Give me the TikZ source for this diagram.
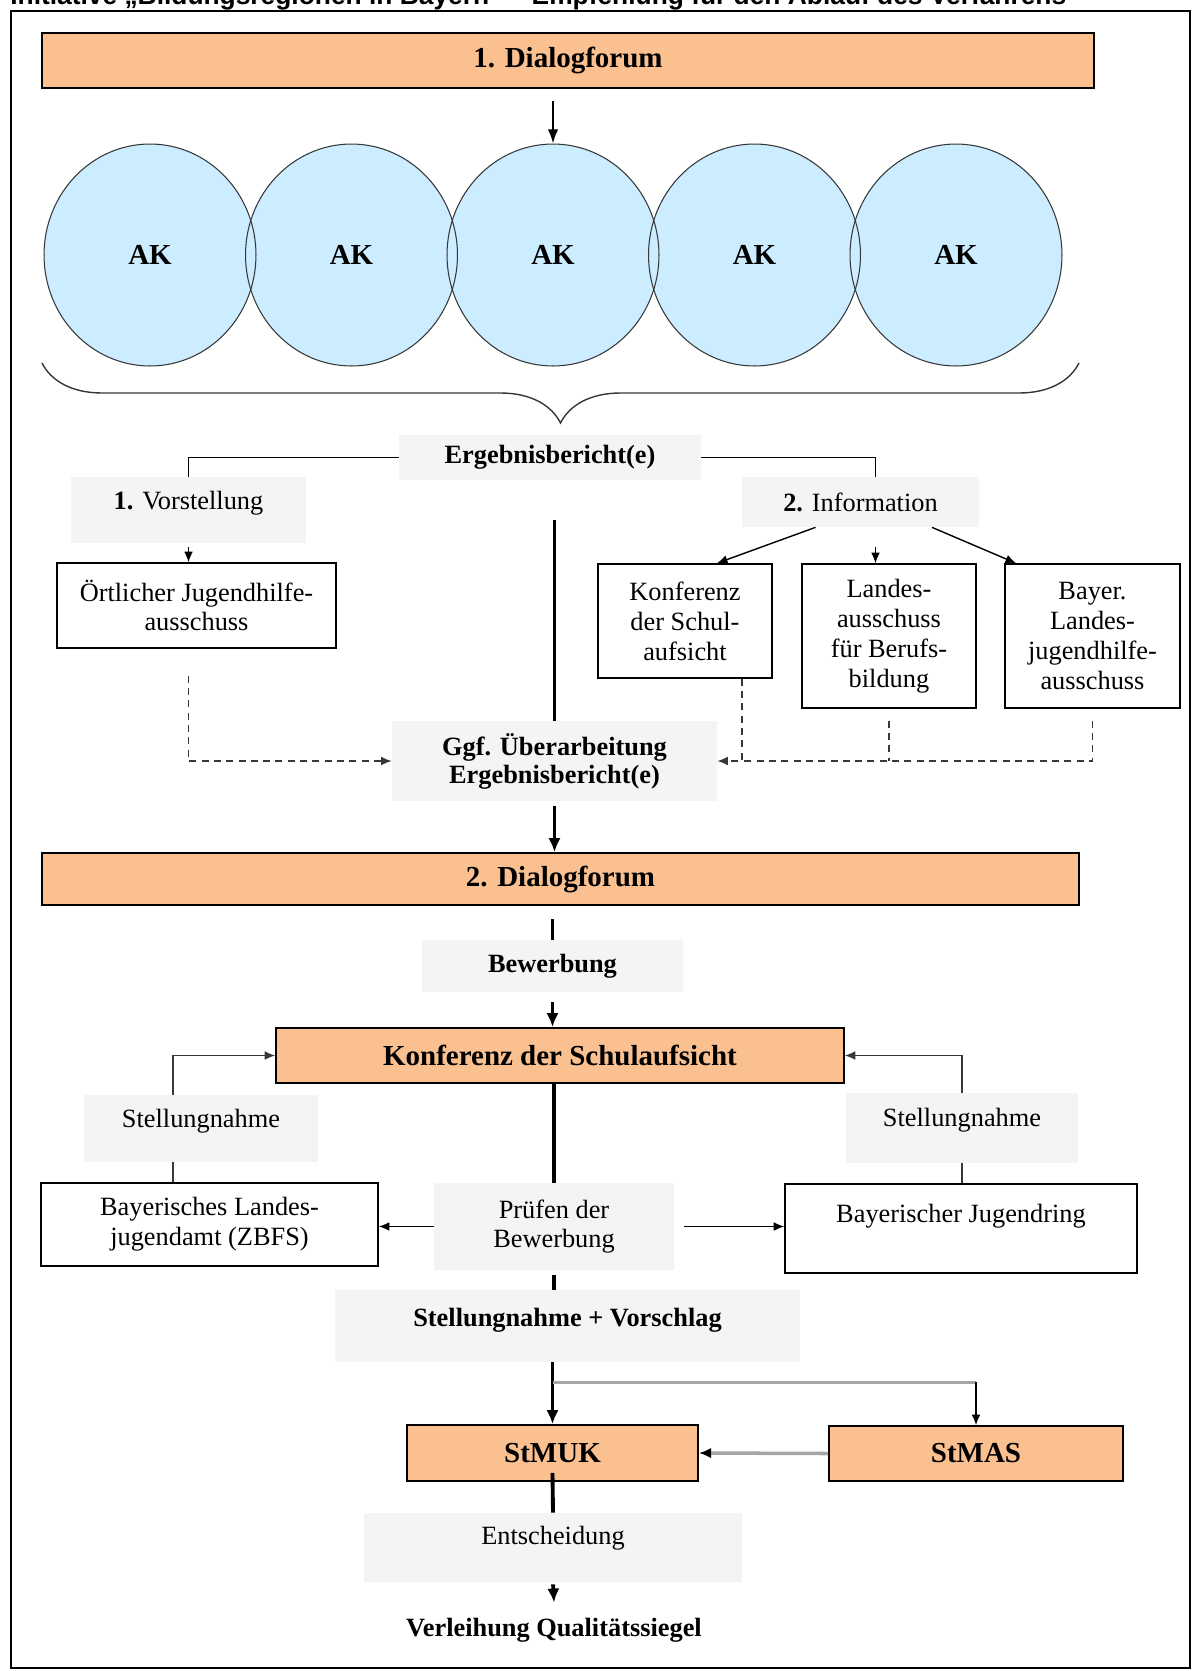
\documentclass[tikz,border=0pt]{standalone}
\usepackage{fontspec}
\setmainfont{Liberation Serif}
\newfontfamily\titelfont{Liberation Sans}
\usetikzlibrary{shapes.geometric,decorations.pathreplacing,arrows.meta}
\definecolor{forumorange}{RGB}{250,192,144}
\definecolor{akblau}{RGB}{204,236,255}
\definecolor{hellgrau}{RGB}{244,244,244}
\definecolor{linie}{RGB}{55,55,55}
\definecolor{bandgrau}{RGB}{165,165,165}

\begin{document}
\begin{tikzpicture}[x=0.02cm, y=-0.02cm,
  forum/.style={draw, line width=1pt, fill=forumorange, inner sep=0pt,
    font=\bfseries\fontsize{16.5}{19}\selectfont},
  ak/.style={ellipse, draw=linie, line width=0.6pt, inner sep=0pt,
    minimum width=4.24cm, minimum height=4.44cm, font=\bfseries\fontsize{16.5}{19}\selectfont},
  grau/.style={fill=hellgrau, inner sep=0pt, align=center, font=\fontsize{15}{17}\selectfont},
  hoch/.style={text depth=#1},
  kasten/.style={draw, line width=0.9pt, fill=white, inner sep=0pt, align=center,
    font=\fontsize{15}{17}\selectfont},
  dick/.style={line width=2.2pt},
  dickpfeil/.style={line width=2.2pt, -{Latex[length=8pt,width=7pt]}},
  pfeil/.style={line width=1.2pt, -{Latex[length=8pt,width=6pt]}},
  duennpfeil/.style={line width=0.8pt, -{Latex[length=6pt,width=5pt]}},
  graulinie/.style={line width=0.8pt, draw=linie},
  strich/.style={line width=0.8pt, draw=linie, dash pattern=on 4pt off 3pt},
  bandlinie/.style={line width=2pt, draw=bandgrau}]

\useasboundingbox (0,0) rectangle (1193,1671);

% title, cut at the upper edge
\node[anchor=base west, inner sep=0pt, font=\titelfont\bfseries\fontsize{15}{18}\selectfont]
  (titel) at (10,4) {Initiative „Bildungsregionen in Bayern“ – Empfehlung für den Ablauf des Verfahrens};
\draw[line width=1pt] (11,11) rectangle (1190,1668);

% 1. Dialogforum and the AKs
\node[forum, minimum width=21.04cm, minimum height=1.1cm] (forum1) at (568,60.5) {1. Dialogforum};
\foreach \i in {1,...,5}
  \fill[akblau] (150+201.5*\i-201.5,255) ellipse [x radius=2.12cm, y radius=2.22cm];
\foreach \i in {1,...,5}
  \node[ak] (ak\i) at (150+201.5*\i-201.5,255) {AK};
\draw[pfeil, shorten <=0.24cm] (forum1.south -| ak3.north) -- (ak3.north);
\draw[decorate, decoration={brace, amplitude=1.2cm}, line width=0.8pt, linie] (1079,363) -- (42,363);

% Ergebnisbericht
\node[grau, font=\bfseries\fontsize{15}{17}\selectfont, minimum width=6.04cm, minimum height=0.9cm]
  (erg) at (550,457.5) {Ergebnisbericht(e)};
\node[grau, hoch=11pt, minimum width=4.7cm, minimum height=1.32cm] (vorst) at (188.5,510) {\textbf{1.} Vorstellung};
\node[grau, minimum width=4.74cm, minimum height=1.0cm] (info) at (860.5,502) {\textbf{2.} Information};
\node[kasten, minimum width=5.58cm, minimum height=1.7cm] (ort) at (196.5,605.5) {Örtlicher Jugendhilfe-\\ausschuss};
\node[kasten, minimum width=3.48cm, minimum height=2.28cm] (konf1) at (685,621) {Konferenz\\der Schul-\\aufsicht};
\node[kasten, minimum width=3.48cm, minimum height=2.88cm] (landes) at (889,636) {Landes-\\ausschuss\\für Berufs-\\bildung};
\node[kasten, minimum width=3.5cm, minimum height=2.88cm] (bayer) at (1092.5,636) {Bayer.\\Landes-\\jugendhilfe-\\ausschuss};
\node[grau, font=\bfseries\fontsize{15}{16}\selectfont, minimum width=6.5cm, minimum height=1.6cm]
  (ggf) at (554.5,761) {Ggf. Überarbeitung\\Ergebnisbericht(e)};

\draw[line width=0.9pt] (erg.west) -| (vorst.north);
\draw[line width=0.9pt] (erg.east) -| ([xshift=0.3cm]info.north);
\draw[duennpfeil, shorten <=0.08cm] (vorst.south) -- (vorst.south |- ort.north);
\draw[duennpfeil] ([xshift=-0.9cm]info.south) -- ([xshift=0.64cm]konf1.north);
\draw[duennpfeil, shorten <=0.4cm] ([xshift=0.3cm]info.south) -- ([xshift=0.3cm]info.south |- landes.north);
\draw[duennpfeil] ([xshift=1.43cm]info.south) -- ([xshift=-1.53cm]bayer.north);
\draw[dick, shorten <=0.8cm] (erg.south -| ggf.north) -- (ggf.north);

% Rueckmeldungen
\draw[strich, -{Latex[length=6pt,width=5pt]}, shorten <=0.54cm] (ort.south -| vorst.south) |- (ggf.west);
\draw[strich, -{Latex[length=6pt,width=5pt]}] ([xshift=1.14cm]konf1.south) |- (ggf.east);
\draw[strich, shorten <=0.24cm] (landes.south) -- (landes.south |- ggf.east);
\draw[strich, shorten <=0.24cm] (bayer.south) |- ([xshift=1.14cm]konf1.south |- ggf.east);

% 2. Dialogforum
\node[forum, minimum width=20.74cm, minimum height=1.04cm] (forum2) at (560.5,879) {2. Dialogforum};
\draw[dickpfeil, shorten <=0.1cm] (ggf.south) -- (ggf.south |- forum2.north);
\node[grau, font=\bfseries\fontsize{15}{17}\selectfont, minimum width=5.22cm, minimum height=1.04cm]
  (bew) at (552.5,966) {Bewerbung};
\draw[dick, shorten <=0.26cm] (forum2.south -| bew.north) -- (bew.north);

% Konferenz der Schulaufsicht
\node[forum, minimum width=11.36cm, minimum height=1.1cm] (konf) at (560,1055.5) {Konferenz der Schulaufsicht};
\draw[dickpfeil, shorten <=0.2cm] (bew.south) -- (bew.south |- konf.north);
\node[grau, hoch=12pt, minimum width=4.68cm, minimum height=1.34cm] (stl) at (201,1128.5) {Stellungnahme};
\node[grau, hoch=12pt, minimum width=4.64cm, minimum height=1.4cm] (stlr) at (962,1128) {Stellungnahme};
\node[kasten, minimum width=6.74cm, minimum height=1.66cm] (bayla) at (209.5,1224.5) {Bayerisches Landes-\\jugendamt (ZBFS)};
\node[kasten, minimum width=7.04cm, minimum height=1.78cm] (bjr) at (961,1228.5) {Bayerischer Jugendring\\\phantom{B}};
\node[grau, minimum width=4.8cm, minimum height=1.74cm] (pruef) at (554,1226.5) {Prüfen der\\Bewerbung};

\draw[graulinie, -{Latex[length=6pt,width=5pt]}] ([xshift=-0.56cm]stl.north) |- (konf.west);
\draw[graulinie] ([xshift=-0.56cm]stl.south) -- ([xshift=-0.56cm]stl.south |- bayla.north);
\draw[graulinie, -{Latex[length=6pt,width=5pt]}] (stlr.north) |- (konf.east);
\draw[graulinie] (stlr.south) -- (stlr.south |- bjr.north);
\draw[dick] (pruef.north |- konf.south) -- (pruef.north);
\draw[duennpfeil] (pruef.west) -- (pruef.west -| bayla.east);
\draw[duennpfeil, shorten <=0.2cm] (pruef.east) -- (pruef.east -| bjr.west);

% Vorschlag, Ministerien, Entscheidung
\node[grau, hoch=10pt, font=\bfseries\fontsize{15}{17}\selectfont, minimum width=9.3cm, minimum height=1.44cm]
  (sv) at (567.5,1326) {Stellungnahme + Vorschlag};
\draw[dick, shorten <=0.1cm] (pruef.south) -- (pruef.south |- sv.north);
\node[forum, minimum width=5.82cm, minimum height=1.12cm] (stmuk) at (552.5,1453) {StMUK};
\node[forum, minimum width=5.88cm, minimum height=1.1cm] (stmas) at (976,1453.5) {StMAS};
\draw[dickpfeil] (sv.south -| stmuk.north) -- (stmuk.north);
\path (sv.south -| stmuk.north) ++(0,-0.4cm) coordinate (abzweig);
\draw[bandlinie] (abzweig) -- (abzweig -| stmas.north);
\draw[duennpfeil] (abzweig -| stmas.north) -- (stmas.north);
\draw[bandlinie, -{Latex[length=7pt,width=6pt,color=black]}] (stmas.west) -- (stmuk.east);

\node[grau, hoch=14pt, minimum width=7.56cm, minimum height=1.38cm] (ent) at (553,1547.5) {Entscheidung};
\draw[dick] ([yshift=0.18cm]stmuk.south) -- (ent.north);
\node[inner sep=0.3cm, font=\bfseries\fontsize{15}{17}\selectfont] (verl) at (554,1630) {Verleihung Qualitätssiegel};
\draw[dickpfeil, shorten <=0.04cm] (ent.south) -- (verl.north);

\end{tikzpicture}
\end{document}
